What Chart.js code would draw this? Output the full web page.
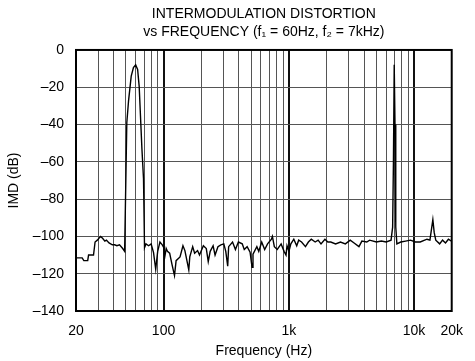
<!DOCTYPE html>
<html>
<head>
<meta charset="utf-8">
<script src="https://cdn.jsdelivr.net/npm/chart.js@4.4.1/dist/chart.umd.min.js"></script>
<style>
  html, body { margin: 0; padding: 0; background: #fff; }
</style>
</head>
<body>
<canvas id="myChart" width="475" height="361"></canvas>
<script>
// frequency (Hz) and IMD (dB)
const freqHz = [
    20, 22.4, 23.1, 24.8, 25.2, 27.6, 28.4, 29.6, 31.4, 32.6,
    34.0, 35.0, 36.7, 39.0, 40.7, 42.4, 44.5, 47.2, 48.9, 49.5,
    50.9, 52.6, 55.2, 57.5, 59.9, 62.1, 63.9, 65.8, 67.2, 69.2,
    70.5, 72.4, 76.0, 79.6, 83.2, 86.6, 89.8, 93.6, 97.7, 100.5,
    102.3, 105, 107.4, 111.9, 116.8, 122.3, 126, 135.4, 142.9, 148.1,
    159.1, 162, 170.9, 177.1, 186.9, 193.7, 208, 219.5, 227.5, 235.8,
    248.8, 257.9, 272, 287, 302.8, 314, 325.4, 331, 355.6, 375,
    396, 425, 441, 465, 491, 509, 518, 556, 576, 608,
    642, 677, 727, 740, 767, 809, 869, 917, 951, 968,
    1003, 1039, 1097, 1157, 1200, 1265, 1359, 1434, 1513, 1625,
    1715, 1809, 1944, 2050, 2164, 2366, 2587, 2830, 3095, 3324,
    3634, 3835, 4193, 4424, 5012, 5483, 5996, 6556, 6750, 6850,
    6950, 7050, 7150, 7296, 7838, 8570, 9371, 10250, 11206, 12700,
    13400, 13800, 14140, 14500, 14920, 16020, 16900, 17840, 18820, 19860,
    20000
];
const imdDb = [
    -111.5, -111.5, -113, -113, -110, -110, -103, -102, -100, -101,
    -102.5, -102, -103.5, -104.5, -104.5, -105, -104.5, -106.5, -108, -87,
    -39, -27, -14, -9.5, -8, -10.5, -19.5, -39, -53, -69,
    -106, -104, -105, -104, -108.7, -117.6, -108, -103, -104.5, -106,
    -111, -106.5, -108, -109, -115, -121, -113, -111, -105, -107.6,
    -118, -111, -105.5, -109, -107.6, -110, -105, -106.5, -113.5, -108,
    -105, -110, -105.5, -104.5, -104, -108, -116, -105.5, -103, -107,
    -103, -104, -107, -105.5, -108.5, -116.5, -109.5, -105.5, -108, -103,
    -107, -104, -101.5, -100, -105.5, -107, -104, -108, -110, -105,
    -108, -104, -101.5, -105, -102, -103, -105.5, -103, -101.5, -103,
    -102, -104, -101.5, -103, -103, -104, -103, -104, -102, -103.5,
    -105.5, -102.5, -103, -102, -103, -102.5, -103, -102, -95, -60,
    -8, -40, -95, -104, -103, -102.5, -102, -103, -103, -101.5,
    -102, -96, -91, -98, -102, -104, -102, -103.5, -101.5, -102.5,
    -102
];

// vertical grid lines (1-2-3...9 per decade) and the labelled ones
const gridFreqs = [
    20, 30, 40, 50, 60, 70, 80, 90,
    100, 200, 300, 400, 500, 600, 700, 800, 900,
    1000, 2000, 3000, 4000, 5000, 6000, 7000, 8000, 9000,
    10000, 20000
];
const xTickLabels = { 20: '20', 100: '100', 1000: '1k', 10000: '10k', 20000: '20k' };
const decades = [100, 1000, 10000];

const titleLines = ['INTERMODULATION DISTORTION', 'vs FREQUENCY (f\u2081 = 60Hz, f\u2082 = 7kHz)'];

Chart.defaults.font.family = '"Liberation Sans", Arial, Helvetica, sans-serif';
Chart.defaults.font.size = 14;
Chart.defaults.color = '#000';

const frame = {
    id: 'frame',
    afterDatasetsDraw(chart) {
        const { ctx, chartArea: a } = chart;
        ctx.save();
        ctx.strokeStyle = '#000';
        ctx.lineWidth = 2;
        ctx.strokeRect(a.left, a.top, a.right - a.left, a.bottom - a.top);
        ctx.restore();
    }
};

function plotChart() {
    const ctx = document.getElementById('myChart');

    new Chart(ctx, {
        type: 'line',
        data: {
            datasets: [{
                label: 'IMD',
                data: freqHz.map((f, i) => ({ x: f, y: imdDb[i] })),
                borderColor: '#000',
                borderWidth: 1.4,
                pointRadius: 0,
                tension: 0,
                fill: false
            }]
        },
        options: {
            responsive: false,
            animation: false,
            devicePixelRatio: 1,
            layout: { padding: { left: 0, right: 13, top: 0, bottom: 0 } },
            plugins: {
                legend: { display: false },
                tooltip: { enabled: false },
                title: {
                    display: true,
                    fullSize: false,
                    text: titleLines,
                    font: { size: 14, weight: 'normal', lineHeight: 1.32 },
                    padding: { top: 4.75, bottom: 8.25 }
                }
            },
            scales: {
                x: {
                    type: 'logarithmic',
                    min: 20,
                    max: 20000,
                    afterBuildTicks: (scale) => {
                        scale.ticks = gridFreqs.map(v => ({ value: v }));
                    },
                    afterFit: (scale) => { scale.height = 50; },
                    ticks: {
                        autoSkip: false,
                        maxRotation: 0,
                        padding: 12,
                        callback: (v) => xTickLabels[v] || ''
                    },
                    grid: {
                        drawTicks: false,
                        color: (c) => decades.includes(c.tick && c.tick.value) ? '#111' : '#555',
                        lineWidth: (c) => decades.includes(c.tick && c.tick.value) ? 2 : 1
                    },
                    border: { display: false },
                    title: {
                        display: true,
                        text: 'Frequency (Hz)',
                        padding: { top: 0, bottom: 1.5 }
                    }
                },
                y: {
                    min: -140,
                    max: 0,
                    afterFit: (scale) => { scale.width = 76; },
                    ticks: {
                        stepSize: 20,
                        padding: 12,
                        callback: (v) => v === 0 ? '0' : '\u2013' + Math.abs(v)
                    },
                    grid: {
                        drawTicks: false,
                        color: '#555',
                        lineWidth: 1
                    },
                    border: { display: false },
                    title: {
                        display: true,
                        text: 'IMD (dB)',
                        padding: { top: 5.5, bottom: 0 }
                    }
                }
            }
        },
        plugins: [frame]
    });
}

plotChart();
</script>
</body>
</html>
